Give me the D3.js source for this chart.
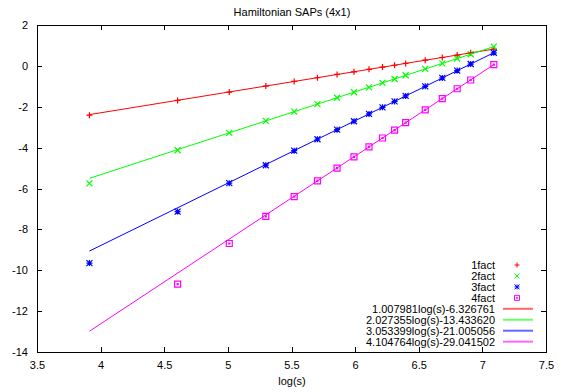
<!DOCTYPE html>
<html>
<head>
<meta charset="utf-8">
<script src="https://cdn.jsdelivr.net/npm/d3@7"></script>
<style>
  body { margin: 0; background: #fff; }
  text { font-family: "Liberation Sans", Arial, sans-serif; font-size: 11px; fill: #000; }
  .axis path, .axis line { stroke: #000; shape-rendering: crispEdges; }
</style>
</head>
<body>
<script>
"use strict";

// log(s) for s = 50,100,...,600,700,800,900,1000,1200
var logS = [3.912, 4.605, 5.011, 5.298, 5.521, 5.704, 5.858, 5.991, 6.109, 6.215, 6.310, 6.397, 6.551, 6.685, 6.802, 6.908, 7.090];

var fact1 = [-2.41, -1.69, -1.28, -0.99, -0.76, -0.58, -0.42, -0.29, -0.17, -0.06, 0.03, 0.12, 0.28, 0.41, 0.53, 0.64, 0.82];
var fact2 = [-5.75, -4.13, -3.28, -2.69, -2.24, -1.87, -1.56, -1.29, -1.05, -0.83, -0.64, -0.46, -0.15, 0.12, 0.36, 0.57, 0.94];
var fact3 = [-9.65, -7.13, -5.74, -4.86, -4.15, -3.59, -3.12, -2.71, -2.35, -2.03, -1.74, -1.47, -1.00, -0.59, -0.23, 0.09, 0.64];
var fact4 = [null, -10.68, -8.69, -7.36, -6.40, -5.63, -5.00, -4.45, -3.96, -3.53, -3.14, -2.78, -2.15, -1.60, -1.12, -0.69, 0.06];

var factNames = ["1fact", "2fact", "3fact", "4fact"];

// fitted lines, endpoints at the first and last log(s)
var fitX = [3.912, 7.090];
var fit1 = [-2.384, 0.820];
var fit2 = [-5.503, 0.941];
var fit3 = [-9.060, 0.644];
var fit4 = [-12.984, 0.062];
var fitNames = ["1.007981log(s)-6.326761", "2.027355log(s)-13.433620", "3.053399log(s)-21.005056", "4.104764log(s)-29.041502"];

var xTicks = [3.5, 4, 4.5, 5, 5.5, 6, 6.5, 7, 7.5];
var xTickLabels = ["3.5", "4", "4.5", "5", "5.5", "6", "6.5", "7", "7.5"];
var yTicks = [2, 0, -2, -4, -6, -8, -10, -12, -14];
var yTickLabels = ["2", "0", "-2", "-4", "-6", "-8", "-10", "-12", "-14"];

var colors = ["#ff0000", "#00ff00", "#0000ff", "#ff00ff"];
var shapes = ["plus", "cross", "star", "box"];

var margin = {top: 25, right: 18, bottom: 40, left: 37};
var width = 564 - margin.left - margin.right;
var height = 392 - margin.top - margin.bottom;

var svg = d3.select("body").append("svg")
  .attr("width", 564)
  .attr("height", 392);

var chart = svg.append("g")
  .attr("transform", "translate(" + margin.left + "," + margin.top + ")");

var x = d3.scaleLinear().domain([3.5, 7.5]).range([0, width]);
var y = d3.scaleLinear().domain([-14, 2]).range([height, 0]);

// axes, gnuplot style: ticks point inward, mirrored on top/right
chart.append("g")
  .attr("class", "axis")
  .attr("transform", "translate(0," + height + ")")
  .call(d3.axisBottom(x).tickValues(xTicks).tickSizeInner(-5).tickSizeOuter(0).tickPadding(9)
    .tickFormat(function(d, i) { return xTickLabels[i]; }));

chart.append("g")
  .attr("class", "axis")
  .call(d3.axisTop(x).tickValues(xTicks).tickSizeInner(-5).tickSizeOuter(0).tickFormat(""));

chart.append("g")
  .attr("class", "axis")
  .call(d3.axisLeft(y).tickValues(yTicks).tickSizeInner(-5).tickSizeOuter(0).tickPadding(9)
    .tickFormat(function(d, i) { return yTickLabels[i]; }));

chart.append("g")
  .attr("class", "axis")
  .attr("transform", "translate(" + width + ",0)")
  .call(d3.axisRight(y).tickValues(yTicks).tickSizeInner(-5).tickSizeOuter(0).tickFormat(""));

chart.selectAll(".axis text").style("font-size", "11px").style("fill", "#000");
chart.selectAll(".axis .domain").style("stroke", "#000");

// point marker paths
var markerPath = function(shape, cx, cy, r) {
  var p = d3.path();
  if (shape === "plus" || shape === "star") {
    p.moveTo(cx - r, cy); p.lineTo(cx + r, cy);
    p.moveTo(cx, cy - r); p.lineTo(cx, cy + r);
  }
  if (shape === "cross" || shape === "star") {
    p.moveTo(cx - r, cy - r); p.lineTo(cx + r, cy + r);
    p.moveTo(cx - r, cy + r); p.lineTo(cx + r, cy - r);
  }
  if (shape === "box") {
    p.rect(cx - r, cy - r, 2 * r, 2 * r);
    p.rect(cx - 0.5, cy - 0.5, 1, 1);
  }
  return p.toString();
};

var series = [fact1, fact2, fact3, fact4];

series.forEach(function(vals, k) {
  var pts = logS.map(function(d, i) { return [d, vals[i]]; })
    .filter(function(d) { return d[1] !== null; });
  chart.append("g").selectAll("path")
    .data(pts)
    .enter().append("path")
    .attr("d", function(d) { return markerPath(shapes[k], x(d[0]), y(d[1]), 3); })
    .attr("fill", "none")
    .attr("stroke", colors[k])
    .attr("stroke-width", 1.2);
});

var fits = [fit1, fit2, fit3, fit4];
var line = d3.line()
  .x(function(d) { return x(d[0]); })
  .y(function(d) { return y(d[1]); });

fits.forEach(function(vals, k) {
  chart.append("path")
    .datum(fitX.map(function(d, i) { return [d, vals[i]]; }))
    .attr("d", line)
    .attr("fill", "none")
    .attr("stroke", colors[k])
    .attr("stroke-width", 1);
});

// legend
var legend = svg.append("g").attr("transform", "translate(495,265)");
var rowH = 10.95;
var legendItems = factNames.concat(fitNames);

legendItems.forEach(function(name, i) {
  var row = legend.append("g").attr("transform", "translate(0," + (i * rowH) + ")");
  row.append("text")
    .attr("x", 0)
    .attr("y", 0)
    .attr("dy", "0.35em")
    .attr("text-anchor", "end")
    .text(name);
  if (i < 4) {
    row.append("path")
      .attr("d", markerPath(shapes[i], 22, 0, 2.5))
      .attr("fill", "none")
      .attr("stroke", colors[i]);
  } else {
    row.append("line")
      .attr("x1", 8).attr("x2", 38)
      .attr("y1", 0).attr("y2", 0)
      .attr("stroke", colors[i - 4])
      .attr("stroke-opacity", 0.6)
      .attr("stroke-width", 2);
  }
});

// title and axis label
svg.append("text")
  .attr("x", 292)
  .attr("y", 12)
  .attr("dy", "0.35em")
  .attr("text-anchor", "middle")
  .text("Hamiltonian SAPs (4x1)");

svg.append("text")
  .attr("x", 292)
  .attr("y", 381)
  .attr("dy", "0.35em")
  .attr("text-anchor", "middle")
  .text("log(s)");
</script>
</body>
</html>
